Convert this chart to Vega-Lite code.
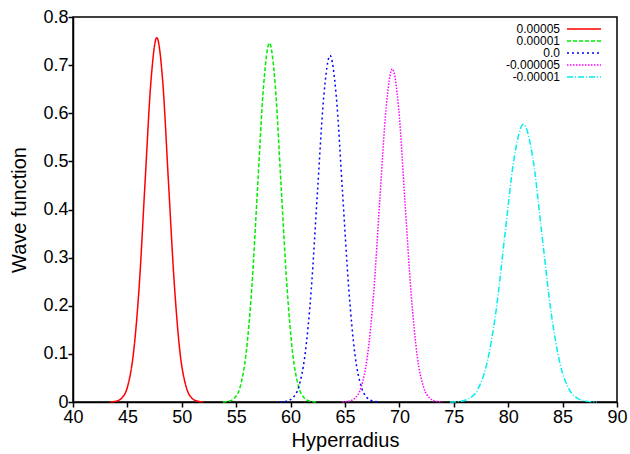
{
  "$schema": "https://vega.github.io/schema/vega-lite/v6.json",
  "width": 544,
  "height": 385,
  "autosize": {"type": "none"},
  "padding": {"left": 73, "top": 17, "right": 13, "bottom": 52},
  "background": "white",
  "config": {
    "font": "Liberation Sans",
    "view": {"stroke": "black", "strokeWidth": 1.5},
    "axis": {"labelColor": "black", "titleColor": "black", "labelFontSize": 18, "titleFontSize": 20, "titleFontWeight": "normal", "labelFont": "Liberation Sans", "titleFont": "Liberation Sans"}
  },
  "data": {"values": [
    {"x": 43.42, "y": 0.0002, "s": "0.00005"},
    {"x": 43.96, "y": 0.0017, "s": "0.00005"},
    {"x": 44.49, "y": 0.0084, "s": "0.00005"},
    {"x": 45.03, "y": 0.0332, "s": "0.00005"},
    {"x": 45.56, "y": 0.102, "s": "0.00005"},
    {"x": 46.1, "y": 0.246, "s": "0.00005"},
    {"x": 46.63, "y": 0.459, "s": "0.00005"},
    {"x": 47.17, "y": 0.668, "s": "0.00005"},
    {"x": 47.7, "y": 0.757, "s": "0.00005"},
    {"x": 48.24, "y": 0.668, "s": "0.00005"},
    {"x": 48.77, "y": 0.459, "s": "0.00005"},
    {"x": 49.31, "y": 0.246, "s": "0.00005"},
    {"x": 49.84, "y": 0.102, "s": "0.00005"},
    {"x": 50.38, "y": 0.0332, "s": "0.00005"},
    {"x": 50.91, "y": 0.0084, "s": "0.00005"},
    {"x": 51.45, "y": 0.0017, "s": "0.00005"},
    {"x": 51.98, "y": 0.0002, "s": "0.00005"},
    {"x": 53.77, "y": 0.0002, "s": "0.00001"},
    {"x": 54.31, "y": 0.0016, "s": "0.00001"},
    {"x": 54.84, "y": 0.0083, "s": "0.00001"},
    {"x": 55.38, "y": 0.0327, "s": "0.00001"},
    {"x": 55.91, "y": 0.101, "s": "0.00001"},
    {"x": 56.45, "y": 0.242, "s": "0.00001"},
    {"x": 56.98, "y": 0.452, "s": "0.00001"},
    {"x": 57.52, "y": 0.658, "s": "0.00001"},
    {"x": 58.05, "y": 0.746, "s": "0.00001"},
    {"x": 58.59, "y": 0.658, "s": "0.00001"},
    {"x": 59.12, "y": 0.452, "s": "0.00001"},
    {"x": 59.66, "y": 0.242, "s": "0.00001"},
    {"x": 60.19, "y": 0.101, "s": "0.00001"},
    {"x": 60.73, "y": 0.0327, "s": "0.00001"},
    {"x": 61.26, "y": 0.0083, "s": "0.00001"},
    {"x": 61.8, "y": 0.0016, "s": "0.00001"},
    {"x": 62.33, "y": 0.0002, "s": "0.00001"},
    {"x": 59.02, "y": 0.0002, "s": "0.0"},
    {"x": 59.6, "y": 0.0016, "s": "0.0"},
    {"x": 60.17, "y": 0.008, "s": "0.0"},
    {"x": 60.75, "y": 0.0316, "s": "0.0"},
    {"x": 61.32, "y": 0.0974, "s": "0.0"},
    {"x": 61.9, "y": 0.234, "s": "0.0"},
    {"x": 62.47, "y": 0.437, "s": "0.0"},
    {"x": 63.05, "y": 0.635, "s": "0.0"},
    {"x": 63.62, "y": 0.72, "s": "0.0"},
    {"x": 64.2, "y": 0.635, "s": "0.0"},
    {"x": 64.77, "y": 0.437, "s": "0.0"},
    {"x": 65.35, "y": 0.234, "s": "0.0"},
    {"x": 65.92, "y": 0.0974, "s": "0.0"},
    {"x": 66.5, "y": 0.0316, "s": "0.0"},
    {"x": 67.07, "y": 0.008, "s": "0.0"},
    {"x": 67.65, "y": 0.0016, "s": "0.0"},
    {"x": 68.22, "y": 0.0002, "s": "0.0"},
    {"x": 64.75, "y": 0.0002, "s": "-0.000005"},
    {"x": 65.33, "y": 0.0015, "s": "-0.000005"},
    {"x": 65.9, "y": 0.0077, "s": "-0.000005"},
    {"x": 66.48, "y": 0.0304, "s": "-0.000005"},
    {"x": 67.05, "y": 0.0936, "s": "-0.000005"},
    {"x": 67.63, "y": 0.225, "s": "-0.000005"},
    {"x": 68.2, "y": 0.42, "s": "-0.000005"},
    {"x": 68.78, "y": 0.611, "s": "-0.000005"},
    {"x": 69.35, "y": 0.692, "s": "-0.000005"},
    {"x": 69.93, "y": 0.611, "s": "-0.000005"},
    {"x": 70.5, "y": 0.42, "s": "-0.000005"},
    {"x": 71.08, "y": 0.225, "s": "-0.000005"},
    {"x": 71.65, "y": 0.0936, "s": "-0.000005"},
    {"x": 72.23, "y": 0.0304, "s": "-0.000005"},
    {"x": 72.8, "y": 0.0077, "s": "-0.000005"},
    {"x": 73.38, "y": 0.0015, "s": "-0.000005"},
    {"x": 73.95, "y": 0.0002, "s": "-0.000005"},
    {"x": 74.64, "y": 0.0002, "s": "-0.00001"},
    {"x": 75.49, "y": 0.0013, "s": "-0.00001"},
    {"x": 76.33, "y": 0.0064, "s": "-0.00001"},
    {"x": 77.18, "y": 0.0253, "s": "-0.00001"},
    {"x": 78.02, "y": 0.0781, "s": "-0.00001"},
    {"x": 78.87, "y": 0.187, "s": "-0.00001"},
    {"x": 79.71, "y": 0.35, "s": "-0.00001"},
    {"x": 80.56, "y": 0.509, "s": "-0.00001"},
    {"x": 81.4, "y": 0.577, "s": "-0.00001"},
    {"x": 82.25, "y": 0.509, "s": "-0.00001"},
    {"x": 83.09, "y": 0.35, "s": "-0.00001"},
    {"x": 83.94, "y": 0.187, "s": "-0.00001"},
    {"x": 84.78, "y": 0.0781, "s": "-0.00001"},
    {"x": 85.63, "y": 0.0253, "s": "-0.00001"},
    {"x": 86.47, "y": 0.0064, "s": "-0.00001"},
    {"x": 87.32, "y": 0.0013, "s": "-0.00001"},
    {"x": 88.16, "y": 0.0002, "s": "-0.00001"}
  ]},
  "layer": [
    {
      "mark": {"type": "line", "interpolate": "monotone", "strokeWidth": 1.5},
      "encoding": {
        "x": {"field": "x", "type": "quantitative", "scale": {"domain": [40, 90], "nice": false, "zero": false},
          "axis": {"orient": "bottom", "grid": false, "domain": true, "domainColor": "black", "domainWidth": 1.5, "tickCount": 10, "format": "d", "tickColor": "black", "tickWidth": 1.5, "tickSize": 5, "labelPadding": 1, "labelFlush": false, "title": "Hyperradius", "titlePadding": 4}},
        "y": {"field": "y", "type": "quantitative", "scale": {"domain": [0, 0.8], "nice": false},
          "axis": {"orient": "left", "grid": false, "domain": true, "domainColor": "black", "domainWidth": 1.5, "tickCount": 8, "format": ".1~f", "tickColor": "black", "tickWidth": 1.5, "tickSize": 5, "labelPadding": 0, "labelFlush": false, "title": "Wave function", "titlePadding": 13}},
        "color": {"field": "s", "type": "nominal",
          "scale": {"domain": ["0.00005", "0.00001", "0.0", "-0.000005", "-0.00001"], "range": ["#ff0000", "#00ee00", "#0000ff", "#ff00ff", "#00eeee"]},
          "legend": {"title": null, "orient": "none", "legendX": 505, "legendY": 6, "padding": 0, "symbolType": "M-3.4,0H3.4", "symbolSize": 100, "symbolStrokeWidth": 1.5, "symbolFillColor": "transparent", "labelFontSize": 12, "labelFont": "Liberation Sans", "labelColor": "black", "labelAlign": "right", "labelOffset": -30, "rowPadding": 0}},
        "strokeDash": {"field": "s", "type": "nominal",
          "scale": {"domain": ["0.00005", "0.00001", "0.0", "-0.000005", "-0.00001"], "range": [[1, 0], [4, 2], [2, 3], [1.5, 1.5], [6, 2, 1, 2]]},
          "legend": null}
      }
    }
  ]
}
